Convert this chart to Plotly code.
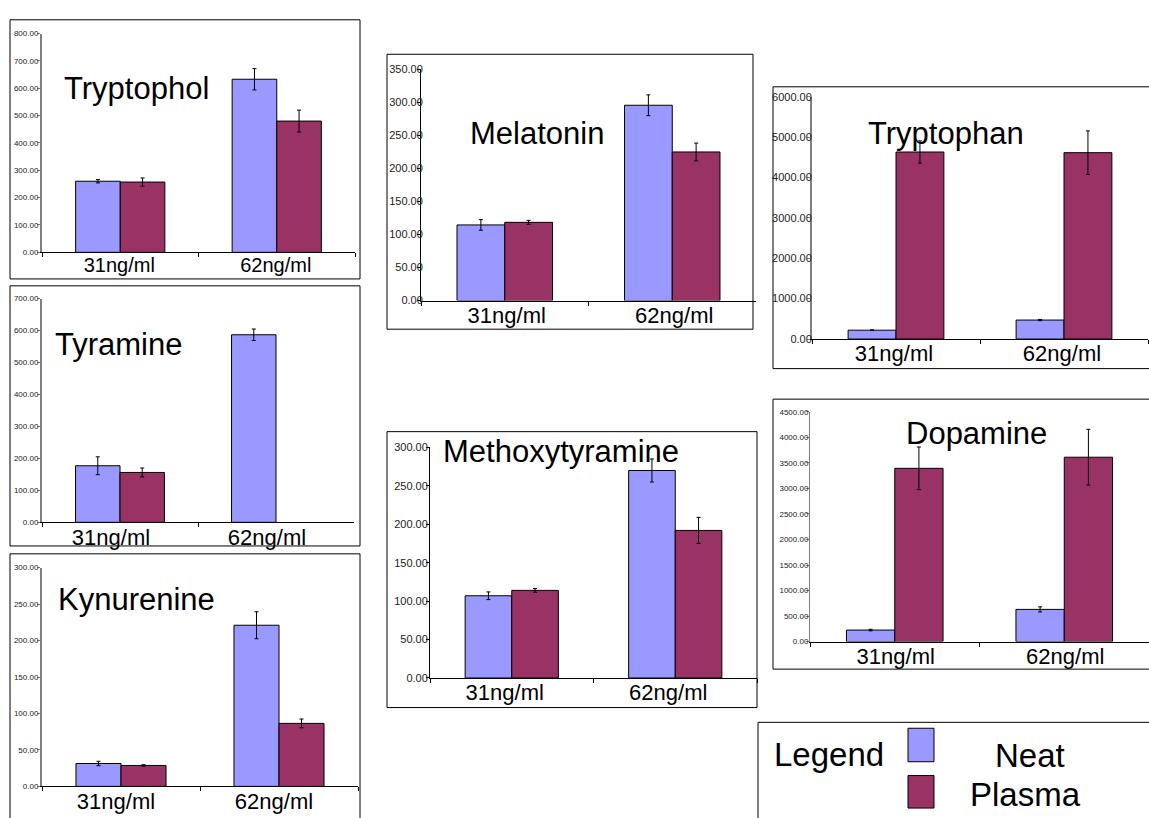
import plotly.graph_objects as go

W, H = 1149, 818

# ---------------- data ----------------
categories = ["31ng/ml", "62ng/ml"]
series_names = ["Neat", "Plasma"]

tryptophol_neat = [260, 633]
tryptophol_neat_err = [6, 39]
tryptophol_plasma = [257, 480]
tryptophol_plasma_err = [15, 40]

tyramine_neat = [177, 587]
tyramine_neat_err = [28, 18]
tyramine_plasma = [156, None]
tyramine_plasma_err = [14, None]

kynurenine_neat = [31.4, 221]
kynurenine_neat_err = [3, 18.5]
kynurenine_plasma = [28.7, 86.4]
kynurenine_plasma_err = [1, 6]

melatonin_neat = [114.4, 295.3]
melatonin_neat_err = [8, 15.7]
melatonin_plasma = [118.3, 224.7]
melatonin_plasma_err = [3, 13.4]

methoxytyramine_neat = [107, 270]
methoxytyramine_neat_err = [5, 15]
methoxytyramine_plasma = [114, 192]
methoxytyramine_plasma_err = [2.5, 17]

tryptophan_neat = [219, 470]
tryptophan_neat_err = [10, 15]
tryptophan_plasma = [4630, 4613]
tryptophan_plasma_err = [275, 540]

dopamine_neat = [225, 630]
dopamine_neat_err = [15, 50]
dopamine_plasma = [3395, 3613]
dopamine_plasma_err = [418, 547]

NEAT_COLOR = "#9999FF"
PLASMA_COLOR = "#993366"
FONT = "Liberation Sans, Arial, sans-serif"

# ---------------- layout geometry (pixels) ----------------
panels = [
    dict(title="Tryptophol", neat=tryptophol_neat, neat_err=tryptophol_neat_err,
         plasma=tryptophol_plasma, plasma_err=tryptophol_plasma_err,
         ymax=800, dtick=100, area=(42, 355, 28, 250), box=(10, 360, 14, 277),
         tpos=(136, 84), tfs=8, axc="#808080", axw=2, sto=-3, xfs=20, xsh=-1),
    dict(title="Tyramine", neat=tyramine_neat, neat_err=tyramine_neat_err,
         plasma=tyramine_plasma, plasma_err=tyramine_plasma_err,
         ymax=700, dtick=100, area=(42, 354, 297, 524), box=(10, 360, 284, 548),
         tpos=(118, 344), tfs=8, axc="#808080", axw=2, sto=-3, xfs=22, xsh=-9),
    dict(title="Kynurenine", neat=kynurenine_neat, neat_err=kynurenine_neat_err,
         plasma=kynurenine_plasma, plasma_err=kynurenine_plasma_err,
         ymax=300, dtick=50, area=(42, 358, 570, 792), box=(10, 360, 556, 850),
         tpos=(136, 602), tfs=8, axc="#808080", axw=2, sto=-3, xfs=22, xsh=-5),
    dict(title="Melatonin", neat=melatonin_neat, neat_err=melatonin_neat_err,
         plasma=melatonin_plasma, plasma_err=melatonin_plasma_err,
         ymax=350, dtick=50, area=(421, 756, 64, 299), box=(387, 753, 49, 328),
         tpos=(537, 129), tfs=11, axc="#000000", axw=1, sto=-8, xfs=22, xsh=2),
    dict(title="Methoxytyramine", neat=methoxytyramine_neat, neat_err=methoxytyramine_neat_err,
         plasma=methoxytyramine_plasma, plasma_err=methoxytyramine_plasma_err,
         ymax=300, dtick=50, area=(430, 757, 448, 682), box=(387, 757, 432, 712),
         tpos=(561, 452), tfs=11, axc="#000000", axw=1, sto=-4, xfs=22, xsh=-7),
    dict(title="Tryptophan", neat=tryptophan_neat, neat_err=tryptophan_neat_err,
         plasma=tryptophan_plasma, plasma_err=tryptophan_plasma_err,
         ymax=6000, dtick=1000, area=(812, 1148, 92, 338), box=(773, 1170, 82, 368),
         tpos=(946, 129), tfs=11, axc="#808080", axw=2, sto=-7, xfs=22, xsh=-2),
    dict(title="Dopamine", neat=dopamine_neat, neat_err=dopamine_neat_err,
         plasma=dopamine_plasma, plasma_err=dopamine_plasma_err,
         ymax=4500, dtick=500, area=(810, 1149, 412, 645), box=(773, 1170, 399, 673),
         tpos=(976, 434), tfs=8, axc="#808080", axw=1, sto=-4, xfs=22, xsh=1),
]


def px(x):
    return x / W


def py(y):
    return 1 - y / H


fig = go.Figure()
shapes = []
annotations = []
layout_axes = {}

for i, p in enumerate(panels, start=1):
    sfx = "" if i == 1 else str(i)
    xa, ya = "x" + sfx, "y" + sfx
    for name, vals, errs, col in [
        (series_names[0], p["neat"], p["neat_err"], NEAT_COLOR),
        (series_names[1], p["plasma"], p["plasma_err"], PLASMA_COLOR),
    ]:
        fig.add_trace(go.Bar(
            x=categories, y=vals, name=name, xaxis=xa, yaxis=ya,
            marker=dict(color=col, line=dict(color="black", width=1)),
            error_y=dict(type="data", array=errs, color="black", thickness=1, width=2),
            showlegend=False,
        ))
    x0, x1, yt, yb = p["area"]
    layout_axes["xaxis" + sfx] = dict(
        domain=[px(x0), min(px(x1), 1.0)], anchor=ya, type="category",
        range=[-0.5, 1.5], showline=True, linecolor="black", linewidth=1,
        ticks="outside", ticklen=4, tickcolor="black", tickson="boundaries",
        showgrid=False, zeroline=False, ticklabelstandoff=-5,
        ticklabelshift=p["xsh"],
        tickfont=dict(family=FONT, size=p["xfs"], color="black"),
    )
    layout_axes["yaxis" + sfx] = dict(
        domain=[py(yb), py(yt)], anchor=xa, range=[0, p["ymax"]],
        tickmode="linear", tick0=0, dtick=p["dtick"], tickformat=".2f",
        showline=True, linecolor=p["axc"], linewidth=p["axw"],
        ticks="outside", ticklen=3, tickcolor=p["axc"],
        showgrid=False, zeroline=False, ticklabelstandoff=p["sto"],
        tickfont=dict(family=FONT, size=p["tfs"], color="#222222"),
    )
    bx0, bx1, by0, by1 = p["box"]
    shapes.append(dict(type="rect", xref="paper", yref="paper",
                       x0=px(bx0), x1=px(bx1), y0=py(by1), y1=py(by0),
                       line=dict(color="black", width=1), fillcolor="rgba(0,0,0,0)",
                       layer="below"))
    tx, ty = p["tpos"]
    annotations.append(dict(text=p["title"], xref="paper", yref="paper",
                            x=px(tx), y=py(ty), xanchor="center", yanchor="middle",
                            showarrow=False,
                            font=dict(family=FONT, size=31, color="black")))

# ---------------- legend box ----------------
shapes.append(dict(type="rect", xref="paper", yref="paper",
                   x0=px(758), x1=px(1180), y0=py(860), y1=py(727),
                   line=dict(color="black", width=1), fillcolor="rgba(0,0,0,0)"))
shapes.append(dict(type="rect", xref="paper", yref="paper",
                   x0=px(908), x1=px(934), y0=py(767), y1=py(733),
                   line=dict(color="black", width=1), fillcolor=NEAT_COLOR))
shapes.append(dict(type="rect", xref="paper", yref="paper",
                   x0=px(908), x1=px(934), y0=py(814), y1=py(781),
                   line=dict(color="black", width=1), fillcolor=PLASMA_COLOR))
annotations.append(dict(text="Legend", xref="paper", yref="paper", x=px(829), y=py(760),
                        xanchor="center", yanchor="middle", showarrow=False,
                        font=dict(family=FONT, size=33, color="black")))
annotations.append(dict(text=series_names[0], xref="paper", yref="paper", x=px(1030), y=py(761),
                        xanchor="center", yanchor="middle", showarrow=False,
                        font=dict(family=FONT, size=33, color="black")))
annotations.append(dict(text=series_names[1], xref="paper", yref="paper", x=px(1025), y=py(800),
                        xanchor="center", yanchor="middle", showarrow=False,
                        font=dict(family=FONT, size=33, color="black")))

fig.update_layout(
    width=W, height=H, autosize=False,
    margin=dict(l=0, r=0, t=0, b=0, pad=0),
    paper_bgcolor="white", plot_bgcolor="white",
    barmode="group", bargap=0.43, bargroupgap=0,
    showlegend=False, shapes=shapes, annotations=annotations,
    font=dict(family=FONT),
    **layout_axes,
)

fig.write_html("out.html")
